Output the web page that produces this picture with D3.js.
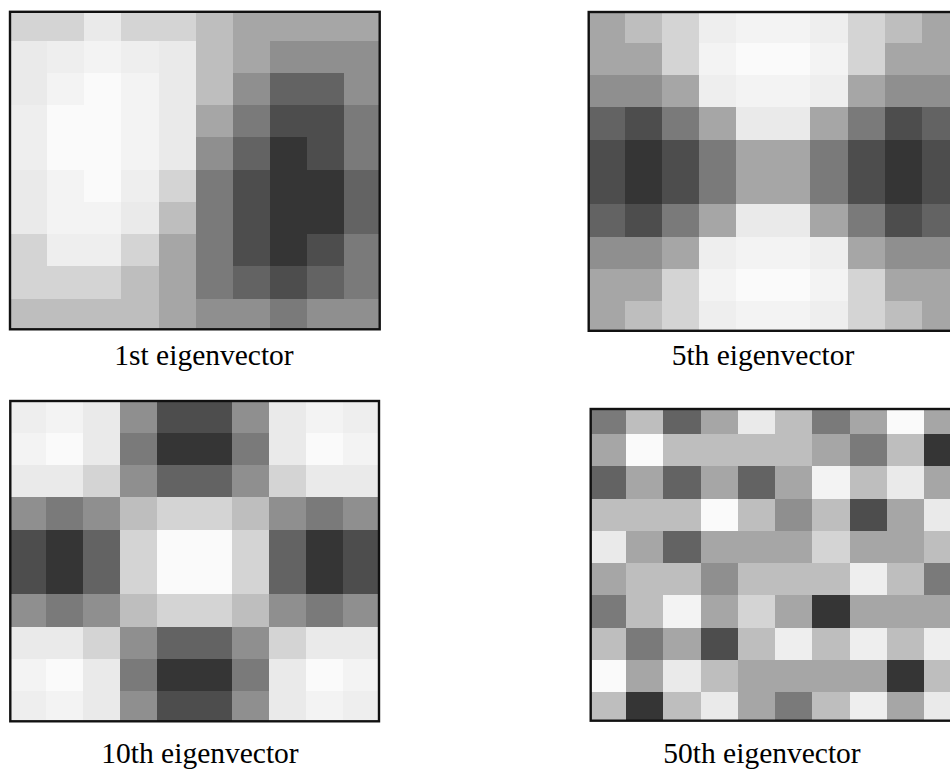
<!DOCTYPE html>
<html>
<head>
<meta charset="utf-8">
<script src="https://cdn.jsdelivr.net/npm/d3@7"></script>
<style>
  html, body { margin: 0; padding: 0; background: #fff; }
  svg { display: block; }
</style>
</head>
<body>
<svg id="chart" width="950" height="773"></svg>
<script>
// Eigenvector maps on a 10 x 10 grid, stored as quantised intensity levels
// (0 = darkest, 11 = lightest).
const eig1 = [
  [7, 7, 8, 7, 7, 6, 5, 5, 5, 5],
  [8, 9, 10, 9, 8, 6, 5, 4, 4, 4],
  [8, 10, 11, 10, 8, 6, 4, 2, 2, 4],
  [9, 11, 11, 10, 8, 5, 3, 1, 1, 3],
  [9, 11, 11, 10, 8, 4, 2, 0, 1, 3],
  [8, 10, 11, 9, 7, 3, 1, 0, 0, 2],
  [8, 10, 10, 8, 6, 3, 1, 0, 0, 2],
  [7, 9, 9, 7, 5, 3, 1, 0, 1, 3],
  [7, 7, 7, 6, 5, 3, 2, 1, 2, 3],
  [6, 6, 6, 6, 5, 4, 4, 3, 4, 4]
];

const eig5 = [
  [5, 6, 7, 9, 10, 10, 9, 7, 6, 5],
  [5, 5, 7, 10, 11, 11, 10, 7, 5, 5],
  [4, 4, 5, 9, 10, 10, 9, 5, 4, 4],
  [2, 1, 3, 5, 8, 8, 5, 3, 1, 2],
  [1, 0, 1, 3, 5, 5, 3, 1, 0, 1],
  [1, 0, 1, 3, 5, 5, 3, 1, 0, 1],
  [2, 1, 3, 5, 8, 8, 5, 3, 1, 2],
  [4, 4, 5, 9, 10, 10, 9, 5, 4, 4],
  [5, 5, 7, 10, 11, 11, 10, 7, 5, 5],
  [5, 6, 7, 9, 10, 10, 9, 7, 6, 5]
];

const eig10 = [
  [9, 10, 8, 4, 1, 1, 4, 8, 10, 9],
  [10, 11, 8, 3, 0, 0, 3, 8, 11, 10],
  [8, 8, 7, 4, 2, 2, 4, 7, 8, 8],
  [4, 3, 4, 6, 7, 7, 6, 4, 3, 4],
  [1, 0, 2, 7, 11, 11, 7, 2, 0, 1],
  [1, 0, 2, 7, 11, 11, 7, 2, 0, 1],
  [4, 3, 4, 6, 7, 7, 6, 4, 3, 4],
  [8, 8, 7, 4, 2, 2, 4, 7, 8, 8],
  [10, 11, 8, 3, 0, 0, 3, 8, 11, 10],
  [9, 10, 8, 4, 1, 1, 4, 8, 10, 9]
];

const eig50 = [
  [3, 6, 2, 5, 8, 6, 3, 5, 11, 5],
  [5, 11, 6, 6, 6, 6, 5, 3, 6, 0],
  [2, 5, 2, 5, 2, 5, 10, 6, 8, 5],
  [6, 6, 6, 11, 6, 4, 6, 1, 5, 8],
  [8, 5, 2, 5, 5, 5, 7, 5, 5, 6],
  [5, 6, 6, 4, 6, 6, 6, 9, 6, 3],
  [3, 6, 10, 5, 7, 5, 0, 5, 5, 5],
  [6, 3, 5, 1, 6, 9, 6, 9, 6, 9],
  [11, 5, 8, 6, 5, 5, 5, 5, 0, 6],
  [6, 0, 6, 8, 5, 3, 6, 9, 5, 8]
];

const titles = ["1st eigenvector", "5th eigenvector", "10th eigenvector", "50th eigenvector"];

// Grey ramp for the intensity levels.
const levels = d3.range(12);
const greys = ["#353535", "#4d4d4d", "#636363", "#7a7a7a", "#8f8f8f", "#a6a6a6",
               "#bebebe", "#d4d4d4", "#eaeaea", "#eeeeee", "#f3f3f3", "#fafafa"];

const color = d3.scaleLinear().domain(levels).range(greys);

// Panel geometry: image extent, clipping frame and caption anchor.
const layout = [
  { img: [10.2, 8.4, 381.1, 331.0], frame: [10, 11.8, 379.7, 329.3], label: [204, 365] },
  { img: [587.9, 10.4, 958.8, 333.6], frame: [588.7, 12, 958.8, 330.8], label: [763, 365] },
  { img: [8.8, 400.4, 380.5, 723.6], frame: [10.3, 401, 379, 721.3], label: [200, 762.5] },
  { img: [588.75, 401.75, 961.25, 724.25], frame: [590.7, 409, 961, 720.7], label: [762, 762.5] }
];

const matrices = [eig1, eig5, eig10, eig50];
const svg = d3.select("#chart");
const defs = svg.append("defs");

matrices.forEach((m, i) => {
  const L = layout[i];
  const [fx0, fy0, fx1, fy1] = L.frame;
  const clipId = "clip-" + i;
  defs.append("clipPath").attr("id", clipId)
    .append("rect")
    .attr("x", fx0).attr("y", fy0)
    .attr("width", fx1 - fx0).attr("height", fy1 - fy0);

  const x = d3.scaleBand().domain(d3.range(m[0].length)).range([L.img[0], L.img[2]]);
  const y = d3.scaleBand().domain(d3.range(m.length)).range([L.img[1], L.img[3]]);

  const cells = [];
  m.forEach((row, r) => row.forEach((v, c) => cells.push({ r, c, v })));

  const g = svg.append("g").attr("clip-path", `url(#${clipId})`);
  g.selectAll("rect")
    .data(cells)
    .join("rect")
    .attr("x", d => x(d.c))
    .attr("y", d => y(d.r))
    .attr("width", x.bandwidth() + 0.3)
    .attr("height", y.bandwidth() + 0.3)
    .attr("fill", d => color(d.v))
    .attr("shape-rendering", "crispEdges");

  svg.append("rect")
    .attr("x", fx0).attr("y", fy0)
    .attr("width", fx1 - fx0).attr("height", fy1 - fy0)
    .attr("fill", "none")
    .attr("stroke", "#111")
    .attr("stroke-width", 2.4);

  svg.append("text")
    .attr("x", L.label[0])
    .attr("y", L.label[1])
    .attr("text-anchor", "middle")
    .attr("font-family", "'Liberation Serif', 'Times New Roman', serif")
    .attr("font-size", 29.5)
    .attr("fill", "#000")
    .text(titles[i]);
});
</script>
</body>
</html>
